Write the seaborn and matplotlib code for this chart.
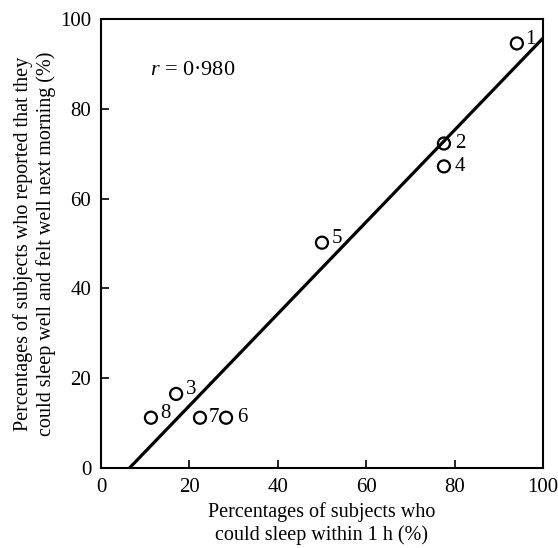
import matplotlib
matplotlib.use("Agg")
import matplotlib.pyplot as plt
import seaborn as sns
import pandas as pd

labels = ["1", "2", "3", "4", "5", "6", "7", "8"]
sleep_within_1h = [94.1, 77.6, 17.0, 77.6, 50.0, 28.3, 22.4, 11.3]
felt_well = [94.6, 72.3, 16.5, 67.2, 50.2, 11.2, 11.2, 11.2]
ticks = [0, 20, 40, 60, 80, 100]

df = pd.DataFrame({"x": sleep_within_1h, "y": felt_well, "label": labels})

sns.set_style("ticks")
plt.rcParams["font.family"] = ["Liberation Serif", "DejaVu Serif"]
plt.rcParams["mathtext.fontset"] = "custom"
plt.rcParams["mathtext.it"] = "Liberation Serif:italic"
plt.rcParams["mathtext.rm"] = "Liberation Serif"
plt.rcParams["text.color"] = "black"
plt.rcParams["axes.labelcolor"] = "black"

fig = plt.figure(figsize=(5.58, 5.48), dpi=100)
ax = fig.add_axes([0.181, 0.146, 0.792, 0.819])
ax.set_xlim(0, 100)
ax.set_ylim(0, 100)

sns.regplot(data=df, x="x", y="y", ax=ax, ci=None, truncate=False,
            scatter=False, line_kws=dict(color="black", lw=2.3))
sns.scatterplot(data=df, x="x", y="y", ax=ax, marker="o", s=75,
                facecolor="none", edgecolor="black", linewidth=1.6, zorder=3)

offsets = {"1": (6, 3), "2": (8, 0), "3": (7, 3), "4": (8, 0),
           "5": (7, 3), "6": (8, 0), "7": (6, 0), "8": (7, 3)}
for xv, yv, lab in zip(sleep_within_1h, felt_well, labels):
    ax.annotate(lab, (xv, yv), xytext=offsets[lab], textcoords="offset points",
                ha="left", va="center", fontsize=15)

ax.text(0.112, 0.885, r"$r$ = 0·980", transform=ax.transAxes, fontsize=16,
        ha="left", va="center")

ax.set_xlim(0, 100)
ax.set_ylim(0, 100)
ax.set_xticks(ticks)
ax.set_yticks(ticks)
ax.tick_params(direction="in", length=6, width=1.2, labelsize=15,
               colors="black", pad=7)
for sp in ax.spines.values():
    sp.set_linewidth(1.5)
    sp.set_color("black")
ax.set_xlabel("Percentages of subjects who\ncould sleep within 1 h (%)",
              fontsize=14.5, labelpad=4)
ax.set_ylabel("Percentages of subjects who reported that they\ncould sleep well and felt well next morning (%)",
              fontsize=14.5, labelpad=3)

fig.savefig("out.png", dpi=100)
